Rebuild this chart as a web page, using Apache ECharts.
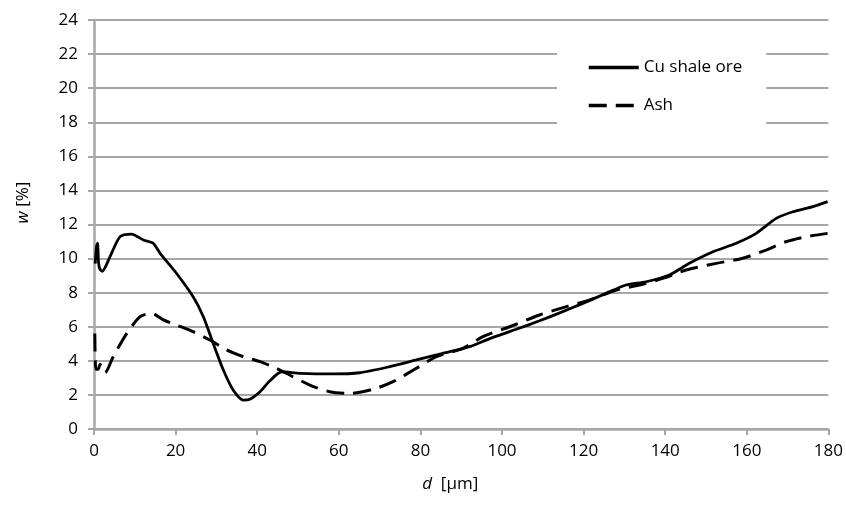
<!DOCTYPE html>
<html>
<head>
<meta charset="utf-8">
<script src="https://cdn.jsdelivr.net/npm/echarts@6/dist/echarts.min.js"></script>
<style>
  html, body { margin: 0; padding: 0; background: #fff; }
  #chart { width: 846px; height: 505px; }
</style>
</head>
<body>
<div id="chart"></div>
<script>
// Particle size d [µm] and mass fraction w [%] for each material
const cuShaleD = [0.3, 0.6, 0.9, 1.0, 1.1, 1.4, 2.0, 3.9, 6.4, 9.2, 12.1, 14.5, 16.2, 20.2, 24.3, 26.8, 29.2, 31.7, 34.1, 36.6, 38.2, 40.7, 43.0, 46.0, 50.5, 58.6, 65.1, 72.5, 79.0, 85.5, 92.1, 97.0, 103.5, 109.2, 114.0, 119.8, 125.5, 130.4, 135.3, 141.0, 145.9, 151.7, 157.4, 162.3, 167.2, 171.3, 176.2, 179.8];
const cuShaleW = [9.7, 10.7, 10.9, 10.4, 9.8, 9.4, 9.25, 10.1, 11.29, 11.44, 11.09, 10.9, 10.31, 9.14, 7.76, 6.59, 5.03, 3.46, 2.29, 1.7, 1.75, 2.19, 2.8, 3.36, 3.27, 3.23, 3.3, 3.66, 4.05, 4.44, 4.83, 5.3, 5.85, 6.35, 6.8, 7.37, 7.96, 8.45, 8.64, 9.04, 9.72, 10.4, 10.9, 11.48, 12.36, 12.75, 13.05, 13.34];

const ashD = [0.2, 0.3, 0.5, 1.0, 1.5, 2.0, 2.7, 4.7, 8.0, 11.3, 14.1, 17.0, 20.2, 24.3, 28.4, 32.5, 36.6, 40.7, 44.7, 46.4, 52.9, 57.8, 62.7, 68.4, 73.3, 79.0, 83.9, 90.4, 95.3, 101.9, 109.2, 115.8, 121.5, 128.0, 133.7, 139.4, 145.1, 152.5, 159.0, 164.7, 169.6, 174.5, 179.8];
const ashW = [5.6, 4.1, 3.5, 3.5, 3.8, 3.5, 3.3, 4.24, 5.6, 6.59, 6.79, 6.4, 6.1, 5.71, 5.22, 4.64, 4.24, 3.95, 3.56, 3.36, 2.58, 2.19, 2.09, 2.33, 2.78, 3.56, 4.24, 4.73, 5.42, 6.0, 6.69, 7.18, 7.57, 8.16, 8.45, 8.84, 9.33, 9.72, 10.02, 10.5, 10.99, 11.28, 11.48];

const seriesNames = ['Cu shale ore', 'Ash'];

const pairs = (xs, ys) => xs.map((x, i) => [x, ys[i]]);

const FONT = '"Open Sans", sans-serif';
const GRID_GREY = '#a6a6a6';

const chart = echarts.init(document.getElementById('chart'), null, { renderer: 'canvas' });

chart.setOption({
  animation: false,
  backgroundColor: '#fff',
  grid: { left: 94, right: 17, top: 20, bottom: 76, containLabel: false },
  legend: {
    orient: 'vertical',
    left: 557,
    top: 40,
    padding: [19, 24, 14, 30],
    backgroundColor: '#fff',
    itemWidth: 50,
    itemHeight: 14,
    itemGap: 21,
    itemStyle: { opacity: 0, borderWidth: 0 },
    lineStyle: { width: 3.5 },
    textStyle: { fontFamily: FONT, fontSize: 17, color: '#000' },
    data: seriesNames
  },
  xAxis: {
    type: 'value',
    min: 0,
    max: 180,
    interval: 20,
    name: '{i|d}  [μm]',
    nameLocation: 'middle',
    nameGap: 47,
    nameTextStyle: {
      fontFamily: FONT, fontSize: 17, color: '#000',
      padding: [0, 22, 0, 0],
      rich: { i: { fontFamily: FONT, fontSize: 17, fontStyle: 'italic', color: '#000' } }
    },
    axisLine: { lineStyle: { color: GRID_GREY, width: 2.5 } },
    axisTick: { show: true, length: 6, lineStyle: { color: GRID_GREY, width: 2 } },
    axisLabel: { fontFamily: FONT, fontSize: 17, color: '#000', margin: 14 },
    splitLine: { show: false }
  },
  yAxis: {
    type: 'value',
    min: 0,
    max: 24,
    interval: 2,
    name: '{i|w} [%]',
    nameLocation: 'middle',
    nameGap: 62,
    nameRotate: 90,
    nameTextStyle: {
      fontFamily: FONT, fontSize: 17, color: '#000',
      padding: [0, 0, 0, 44],
      rich: { i: { fontFamily: FONT, fontSize: 17, fontStyle: 'italic', color: '#000' } }
    },
    axisLine: { show: true, lineStyle: { color: GRID_GREY, width: 2.5 } },
    axisTick: { show: true, length: 6, lineStyle: { color: GRID_GREY, width: 2 } },
    axisLabel: { fontFamily: FONT, fontSize: 17, color: '#000', margin: 16 },
    splitLine: { show: true, lineStyle: { color: GRID_GREY, width: 2 } }
  },
  series: [
    {
      name: seriesNames[0],
      type: 'line',
      data: pairs(cuShaleD, cuShaleW),
      smooth: 0.25,
      showSymbol: false,
      symbol: 'none',
      lineStyle: { color: '#000', width: 2.8, type: 'solid' },
      itemStyle: { color: '#000' },
      z: 3
    },
    {
      name: seriesNames[1],
      type: 'line',
      data: pairs(ashD, ashW),
      smooth: 0.25,
      showSymbol: false,
      symbol: 'none',
      lineStyle: { color: '#000', width: 3, type: [18, 9] },
      itemStyle: { color: '#000' },
      z: 3
    }
  ]
});
</script>
</body>
</html>
